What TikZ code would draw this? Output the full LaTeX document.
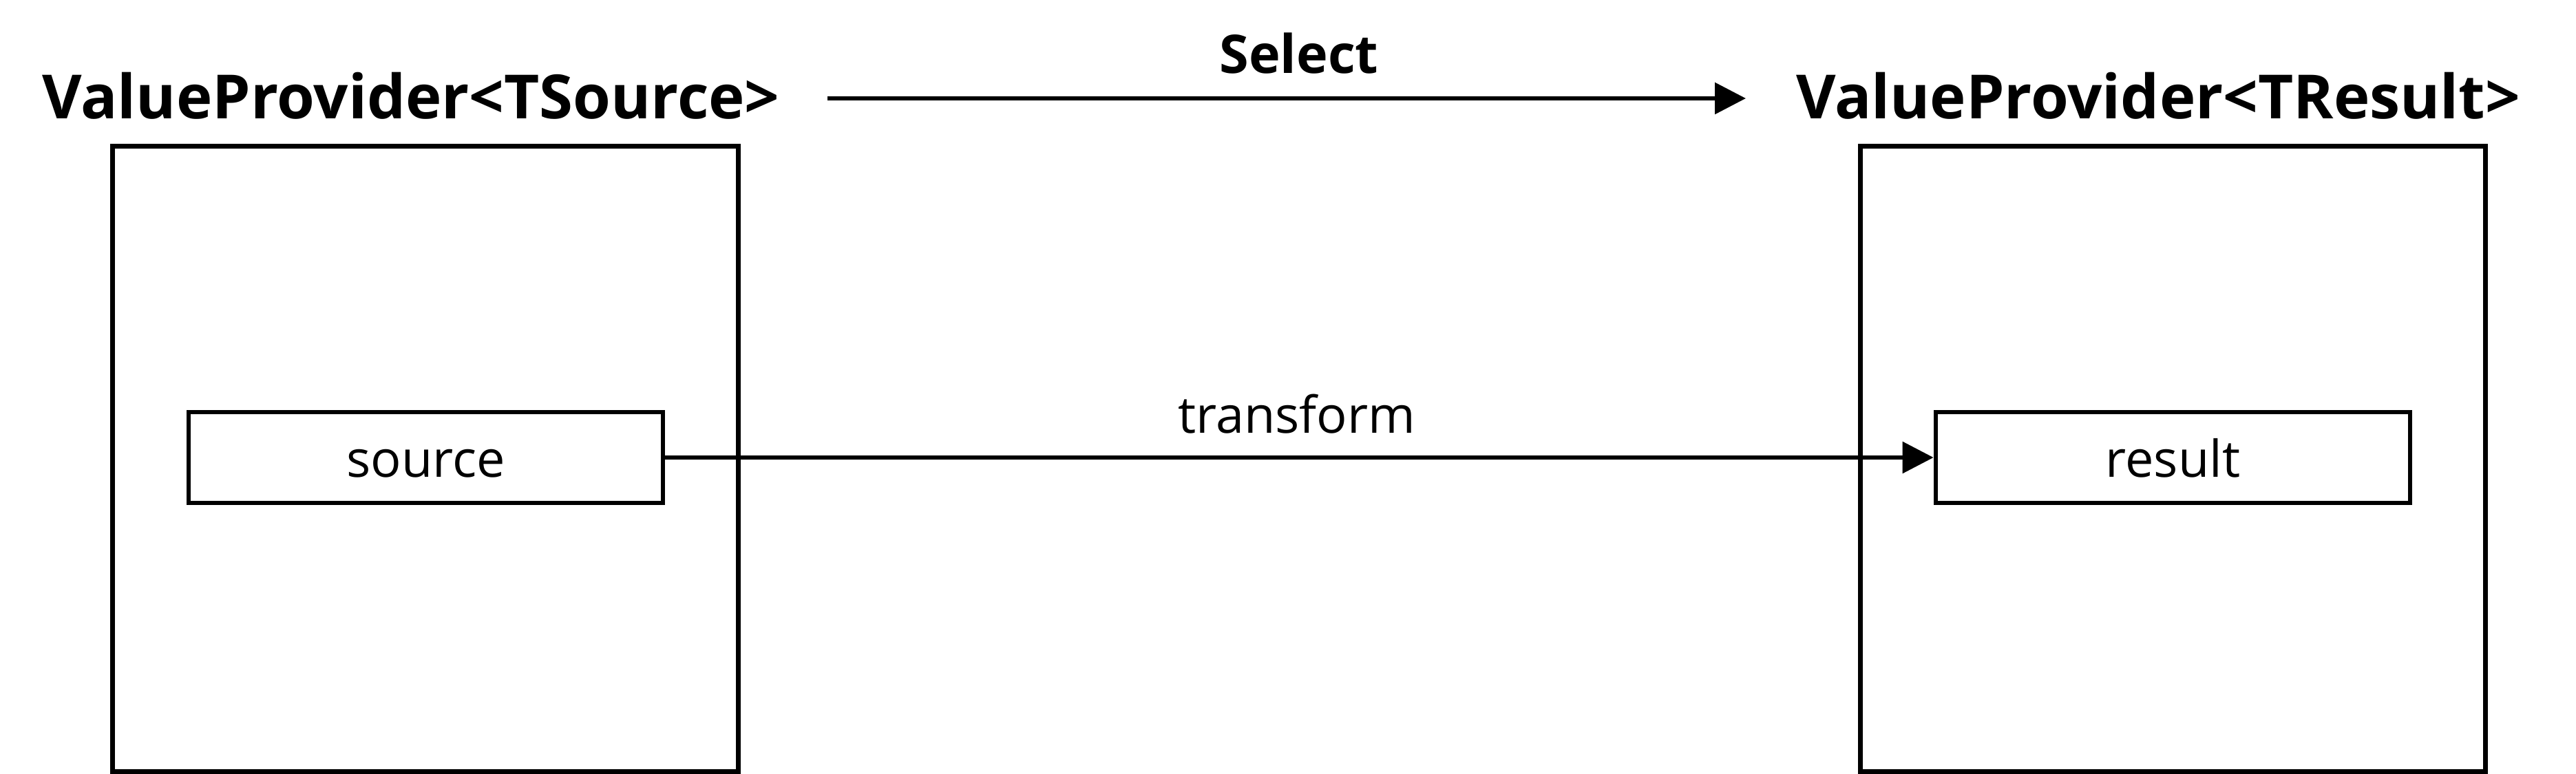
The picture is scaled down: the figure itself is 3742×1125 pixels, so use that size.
\documentclass[tikz,border=0pt]{standalone}
\usepackage{fontspec}
\setmainfont{Open Sans}
\usetikzlibrary{arrows.meta}
\tikzset{
  bigbox/.style={draw=black, line width=2pt, fill=none, inner sep=0pt},
  smallbox/.style={draw=black, line width=1.8pt, inner sep=0pt, text height=16pt, text depth=0pt, font=\fontsize{21pt}{25pt}\selectfont},
  titletext/.style={inner sep=0pt, anchor=base, font=\bfseries\fontsize{25.2pt}{30pt}\selectfont},
  selecttext/.style={inner sep=0pt, anchor=base, font=\bfseries\fontsize{22pt}{26pt}\selectfont},
  lbltext/.style={inner sep=0pt, anchor=base, font=\fontsize{21pt}{25pt}\selectfont},
  conn/.style={line width=1.8pt, -{Triangle[length=12.8pt,width=12.8pt]}}
}
\begin{document}
\begin{tikzpicture}[x=0.01cm,y=-0.01cm]
\useasboundingbox (0,0) rectangle (3742,1125);
% big containers
\node[bigbox, minimum width=9.085cm, minimum height=9.09cm] (lbox) at (617.75,667) {};
\node[bigbox, minimum width=9.07cm, minimum height=9.09cm] (rbox) at (3156.5,667) {};
% titles
\node[titletext] (ltitle) at (597,173) {ValueProvider<TSource>};
\node[titletext] (rtitle) at (3135,173) {ValueProvider<TResult>};
% inner boxes
\node[smallbox, minimum width=6.885cm, minimum height=1.32cm] (source) at (618.75,665) {source};
\node[smallbox, minimum width=6.89cm, minimum height=1.32cm] (result) at (3156.5,665) {result};
% select arrow
\coordinate (selA) at (1202,143);
\coordinate (selB) at (2536,143);
\draw[conn] (selA) -- (selB);
\node[selecttext] (select) at (1887,107) {Select};
% transform arrow
\draw[conn] (source.east) -- (result.west);
\node[lbltext] (transform) at (1884,630) {transform};
\end{tikzpicture}
\end{document}
